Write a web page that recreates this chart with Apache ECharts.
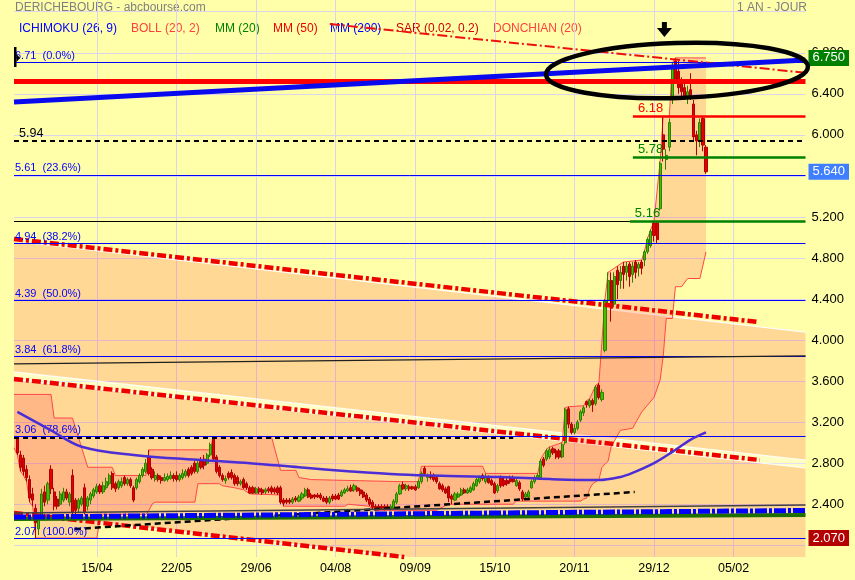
<!DOCTYPE html>
<html>
<head>
<meta charset="utf-8">
<script src="https://cdn.jsdelivr.net/npm/echarts@6.0.0/dist/echarts.min.js"></script>
<style>
html,body{margin:0;padding:0;background:#FFFFAA;}
#chart{width:855px;height:580px;}
</style>
</head>
<body>
<div id="chart"></div>
<script>
// ---------------- DATA ----------------
const xTickIndex  = [26, 52, 78, 104, 130, 156, 182, 208, 234];
const xTickLabels = ['15/04','22/05','29/06','04/08','09/09','15/10','20/11','29/12','05/02'];
const yGridValues  = [2.0,2.4,2.8,3.2,3.6,4.0,4.4,4.8,5.2,5.6,6.0,6.4,6.8,7.2];
const yLabelValues = [2.4,2.8,3.2,3.6,4.0,4.4,4.8,5.2,5.6,6.0,6.4,6.8];

const opens = [
3.05,2.88,2.85,2.74,2.64,2.50,2.36,2.16,2.28,2.52,
2.44,2.74,2.52,2.45,2.40,2.44,2.52,2.42,2.68,2.44,
2.36,2.40,2.56,2.38,2.44,2.48,2.52,2.58,2.52,2.56,
2.60,2.70,2.60,2.56,2.58,2.66,2.60,2.64,2.56,2.56,
2.62,2.68,2.72,2.86,2.74,2.64,2.68,2.66,2.63,2.64,
2.65,2.68,2.68,2.64,2.66,2.68,2.74,2.76,2.80,2.72,
2.82,2.84,2.80,2.88,3.04,2.86,2.76,2.68,2.63,2.70,
2.71,2.68,2.66,2.60,2.64,2.60,2.56,2.56,2.51,2.55,
2.54,2.52,2.55,2.56,2.55,2.56,2.56,2.44,2.44,2.44,
2.42,2.46,2.43,2.46,2.48,2.54,2.49,2.49,2.49,2.49,
2.46,2.46,2.42,2.48,2.48,2.49,2.48,2.51,2.53,2.56,
2.54,2.56,2.54,2.52,2.49,2.45,2.42,2.38,2.38,2.38,
2.38,2.38,2.36,2.36,2.42,2.50,2.59,2.55,2.57,2.57,
2.57,2.56,2.62,2.75,2.66,2.68,2.68,2.66,2.60,2.58,
2.55,2.57,2.48,2.44,2.47,2.49,2.54,2.51,2.52,2.54,
2.58,2.62,2.68,2.62,2.66,2.63,2.60,2.53,2.66,2.63,
2.63,2.66,2.66,2.58,2.61,2.52,2.47,2.47,2.56,2.62,
2.66,2.66,2.84,2.84,2.86,2.94,2.92,2.92,2.86,3.00,
3.33,3.18,3.10,3.14,3.22,3.29,3.40,3.36,3.41,3.38,
3.56,3.42,3.90,4.39,4.58,4.35,4.68,4.58,4.72,4.66,
4.74,4.64,4.76,4.70,4.76,4.78,4.86,4.92,5.14,5.14,
5.28,6.00,5.76,5.88,6.34,6.72,6.62,6.50,6.46,6.36,
6.44,6.30,6.00,5.95,6.16,5.88];
const closes = [
2.90,2.76,2.72,2.66,2.46,2.44,2.22,2.27,2.50,2.42,
2.60,2.55,2.38,2.38,2.50,2.52,2.46,2.50,2.32,2.34,
2.44,2.46,2.32,2.46,2.50,2.54,2.57,2.52,2.58,2.62,
2.68,2.56,2.55,2.62,2.62,2.60,2.64,2.58,2.44,2.64,
2.68,2.74,2.80,2.70,2.66,2.68,2.64,2.63,2.66,2.67,
2.68,2.65,2.64,2.68,2.70,2.72,2.68,2.70,2.72,2.80,
2.76,2.78,2.88,2.98,2.84,2.72,2.68,2.64,2.65,2.66,
2.66,2.60,2.60,2.62,2.56,2.56,2.51,2.51,2.55,2.52,
2.51,2.54,2.53,2.52,2.52,2.51,2.42,2.41,2.42,2.42,
2.45,2.44,2.47,2.50,2.54,2.47,2.46,2.47,2.47,2.46,
2.43,2.42,2.46,2.45,2.45,2.45,2.52,2.54,2.55,2.53,
2.58,2.53,2.50,2.47,2.44,2.40,2.37,2.36,2.36,2.36,
2.36,2.36,2.38,2.43,2.50,2.58,2.55,2.58,2.55,2.55,
2.54,2.62,2.70,2.70,2.68,2.66,2.64,2.62,2.55,2.54,
2.51,2.46,2.45,2.50,2.50,2.54,2.51,2.54,2.56,2.60,
2.64,2.66,2.65,2.67,2.61,2.59,2.51,2.58,2.58,2.59,
2.60,2.62,2.62,2.63,2.55,2.45,2.50,2.52,2.62,2.66,
2.68,2.82,2.78,2.92,2.93,2.90,2.86,2.86,2.98,3.32,
3.18,3.10,3.14,3.20,3.30,3.34,3.37,3.41,3.37,3.54,
3.44,3.49,4.38,4.58,4.31,4.62,4.54,4.66,4.64,4.72,
4.62,4.72,4.66,4.74,4.70,4.86,4.98,5.06,5.02,4.98,
5.72,5.86,5.80,6.12,6.66,6.54,6.46,6.42,6.38,6.42,
6.38,5.98,5.94,6.12,5.90,5.64];
const lows = [
2.88,2.72,2.68,2.62,2.42,2.38,2.07,2.10,2.26,2.38,
2.40,2.50,2.34,2.35,2.38,2.42,2.44,2.38,2.30,2.30,
2.32,2.38,2.30,2.34,2.40,2.46,2.50,2.50,2.50,2.54,
2.58,2.54,2.52,2.54,2.56,2.58,2.58,2.56,2.42,2.54,
2.60,2.66,2.70,2.68,2.64,2.62,2.62,2.60,2.62,2.62,
2.64,2.62,2.62,2.62,2.64,2.66,2.66,2.68,2.70,2.70,
2.74,2.74,2.78,2.86,2.82,2.70,2.66,2.62,2.60,2.64,
2.64,2.58,2.58,2.58,2.55,2.54,2.50,2.50,2.50,2.50,
2.49,2.50,2.51,2.50,2.50,2.49,2.40,2.38,2.40,2.40,
2.40,2.42,2.42,2.44,2.47,2.46,2.45,2.45,2.46,2.44,
2.42,2.40,2.40,2.43,2.44,2.44,2.47,2.50,2.52,2.52,
2.52,2.52,2.48,2.46,2.42,2.38,2.35,2.34,2.34,2.35,
2.34,2.35,2.34,2.35,2.40,2.49,2.54,2.53,2.53,2.54,
2.53,2.55,2.60,2.68,2.62,2.64,2.62,2.60,2.54,2.52,
2.50,2.42,2.40,2.43,2.46,2.48,2.50,2.50,2.51,2.53,
2.57,2.60,2.63,2.60,2.60,2.58,2.50,2.51,2.56,2.57,
2.58,2.60,2.61,2.57,2.53,2.43,2.45,2.46,2.55,2.60,
2.65,2.64,2.76,2.82,2.84,2.88,2.84,2.84,2.85,2.98,
3.14,3.08,3.08,3.12,3.20,3.26,3.34,3.34,3.30,3.36,
3.42,3.40,3.88,4.36,4.18,4.32,4.40,4.50,4.50,4.58,
4.52,4.56,4.60,4.62,4.64,4.72,4.84,4.90,4.96,4.94,
5.26,5.74,5.66,5.84,6.30,6.50,6.40,6.36,6.34,6.30,
6.34,5.94,5.80,5.88,5.84,5.62];
const highs = [
3.06,2.92,2.88,2.78,2.68,2.56,2.40,2.30,2.55,2.58,
2.62,2.78,2.56,2.48,2.53,2.56,2.55,2.52,2.74,2.46,
2.46,2.48,2.60,2.48,2.52,2.56,2.60,2.60,2.62,2.66,
2.70,2.72,2.62,2.64,2.66,2.68,2.66,2.66,2.58,2.66,
2.70,2.76,2.84,2.93,2.76,2.72,2.70,2.68,2.70,2.70,
2.72,2.70,2.72,2.70,2.74,2.74,2.76,2.78,2.82,2.82,
2.86,2.88,2.90,3.00,3.06,2.88,2.78,2.70,2.68,2.72,
2.74,2.70,2.68,2.64,2.66,2.62,2.58,2.58,2.57,2.57,
2.56,2.56,2.57,2.58,2.57,2.58,2.58,2.46,2.46,2.46,
2.47,2.48,2.49,2.52,2.56,2.56,2.51,2.50,2.51,2.51,
2.48,2.48,2.48,2.50,2.50,2.51,2.54,2.56,2.58,2.59,
2.60,2.58,2.56,2.54,2.51,2.47,2.44,2.40,2.40,2.40,
2.40,2.40,2.40,2.45,2.52,2.60,2.62,2.60,2.59,2.58,
2.59,2.64,2.72,2.77,2.70,2.72,2.70,2.68,2.62,2.60,
2.57,2.58,2.50,2.52,2.52,2.56,2.56,2.56,2.58,2.62,
2.66,2.68,2.70,2.70,2.68,2.65,2.62,2.60,2.68,2.66,
2.66,2.68,2.68,2.66,2.63,2.54,2.52,2.54,2.64,2.68,
2.70,2.84,2.86,2.94,2.96,2.96,2.94,2.94,3.00,3.34,
3.35,3.20,3.18,3.22,3.32,3.36,3.41,3.43,3.43,3.56,
3.58,3.52,4.40,4.66,4.66,4.66,4.72,4.72,4.76,4.76,
4.76,4.76,4.78,4.76,4.78,4.88,5.00,5.08,5.16,5.16,
5.74,6.18,5.86,6.16,6.70,6.75,6.72,6.56,6.52,6.48,
6.60,6.34,6.04,6.16,6.18,5.90];

// Donchian (20) channel vertices [day index, value]
const donchianUpper = [[-1.1,3.47],[11,3.47],[12,3.24],[18,3.24],[23,2.76],[31,2.76],[32,2.68],[42,2.68],[43,2.93],[63,2.93],[64,3.06],[83,3.06],[86,2.73],[91,2.73],[92,2.66],[96,2.64],[125,2.62],[131,2.62],[132,2.77],[152,2.77],[153,2.70],[170,2.70],[171,2.84],[173,2.94],[174,2.96],[178,3.00],[179,3.34],[180,3.35],[185,3.36],[186,3.41],[187,3.43],[189,3.56],[190,3.58],[192,4.40],[193,4.66],[196,4.72],[198,4.76],[204,4.78],[205,4.88],[206,5.00],[207,5.08],[208,5.16],[210,5.74],[211,6.18],[213,6.18],[214,6.70],[215,6.75],[225,6.75]];
const donchianLower = [[-1.1,2.95],[0,2.88],[1,2.72],[2,2.68],[3,2.62],[4,2.42],[5,2.38],[6,2.07],[26,2.07],[27,2.26],[28,2.30],[42,2.30],[43,2.34],[44,2.40],[45,2.42],[58,2.42],[59,2.60],[66,2.60],[67,2.58],[71,2.56],[74,2.54],[76,2.50],[86,2.49],[87,2.38],[107,2.38],[108,2.40],[115,2.38],[116,2.35],[117,2.34],[137,2.34],[138,2.36],[141,2.40],[162,2.40],[163,2.43],[184,2.43],[185,2.45],[186,2.46],[187,2.55],[188,2.60],[190,2.64],[191,2.76],[193,2.82],[194,2.96],[197,3.12],[201,3.14],[204,3.30],[208,3.44],[210,3.61],[211,3.84],[212,4.21],[214,4.21],[215,4.52],[217,4.52],[219,4.60],[223,4.60],[225,4.86]];

// long moving average (purple)
const mmLong = [[0,3.30],[11,3.12],[21,2.96],[38,2.88],[60,2.83],[76,2.80],[92,2.76],[109,2.72],[125,2.69],[141,2.675],[158,2.665],[174,2.645],[190,2.635],[197,2.665],[201,2.705],[208,2.80],[214,2.91],[220,3.03],[225,3.10]];

// Fibonacci retracement levels
const fibLevels = [6.71, 5.61, 4.94, 4.39, 3.84, 3.06, 2.07];
const fibPct    = ['0.0%','23.6%','38.2%','50.0%','61.8%','78.6%','100.0%'];

// drawn support / resistance levels
const dashedLevel = 5.94;
const redLevel = 6.18;
const greenLevels = [5.78, 5.16];
const thickRedLevel = 6.518;

// trend channel edges (fill) and trend lines [index, value]
const channelTopEdge    = [[-1.1,4.965],[257.5,4.078]];
const stripTopEdge      = [[-1.1,3.689],[257.5,2.831]];
const stripBottomEdge   = [[-1.1,3.611],[257.5,2.753]];
const channelBottomEdge = [[-1.1,2.314],[257.5,1.444]];
const trendA = [[-1.1,4.985],[242.0,4.176]];
const trendB = [[-1.1,3.621],[242.6,2.831]];
const trendC = [[-1.1,2.314],[126.4,1.8855]];
const trendD = [[102.1,7.080],[257.5,6.605]];
const blueTrend = [[-1.1,6.320],[257.5,6.729]];
const risingSupport = [[18.8,2.158],[201.7,2.519]];
const dashed306 = [[-1.1,3.05],[162,3.05]];
const black516 = [[-1.1,5.155],[200.1,5.155]];
const black38  = [[-1.1,3.767],[257.5,3.845]];
const bottomBlack = [[-1.1,2.314],[257.5,2.392]];
const bottomBlue  = [[-1.1,2.275],[257.5,2.339]];
const bottomGreen = [[-1.1,2.256],[257.5,2.295]];
const levelStart = [201.1, 201.1, 200.1]; // start index of 6.18 / 5.78 / 5.16 lines

// annotation ellipse (centre and radii in data units) and arrow
const ellipseCenter = [215.5, 6.627];
const ellipseRadius = [42.8, 0.268];
const arrowPoint = [211.4, 7.027];

// price tags
const tagValues = [6.75, 5.64, 2.07];
const tagColors = ['#008000', '#3F7FFF', '#B40000'];

// ---------------- CHART ----------------
const candleData = opens.map((o, i) => [i, o, closes[i], lows[i], highs[i]]);
const FONT = 'Liberation Sans';

function seg(a, b, lineStyle, label) {
  return [{coord: a, lineStyle: lineStyle, label: label || {show: false}}, {coord: b}];
}

const peach = 'rgba(255,60,70,0.2)';
const whiteEdge = {stroke: 'rgba(255,255,255,0.9)', lineWidth: 1.2, fill: null};

const chart = echarts.init(document.getElementById('chart'));
const option = {
  animation: false,
  backgroundColor: '#FFFFAA',
  textStyle: {fontFamily: FONT},
  grid: {left: 14, right: 49.5, top: 0, bottom: 23, containLabel: false},
  xAxis: {
    type: 'value', min: -1.1, max: 257.5,
    axisLine: {show: false}, axisTick: {show: false, customValues: xTickIndex},
    axisLabel: {customValues: xTickIndex, formatter: v => xTickLabels[xTickIndex.indexOf(v)] || '',
      color: '#000', fontSize: 12.5, fontFamily: FONT, margin: 5},
    splitLine: {show: true, lineStyle: {color: '#DCD4EA', width: 1}}
  },
  yAxis: {
    type: 'value', position: 'right', min: 1.8855, max: 7.3143,
    axisLine: {show: false}, axisTick: {show: false, customValues: yGridValues},
    axisLabel: {customValues: yLabelValues, formatter: v => v.toFixed(3), color: '#000',
      fontSize: 13, fontFamily: FONT, margin: 6, padding: [0, 0, 5, 0]},
    splitLine: {show: true, lineStyle: {color: '#DCD4EA', width: 1}}
  },
  graphic: [
    {type: 'text', x: 15, y: 8, style: {text: 'DERICHEBOURG - abcbourse.com', fill: '#808080', font: '12px "Liberation Sans"', verticalAlign: 'middle'}},
    {type: 'text', x: 737, y: 8, style: {text: '1 AN - JOUR', fill: '#808080', font: '12px "Liberation Sans"', verticalAlign: 'middle'}},
    {type: 'text', x: 19, y: 29, style: {text: 'ICHIMOKU (26, 9)', fill: '#0000FF', font: '12px "Liberation Sans"', verticalAlign: 'middle'}},
    {type: 'text', x: 131, y: 29, style: {text: 'BOLL (20, 2)', fill: '#FF4040', font: '12px "Liberation Sans"', verticalAlign: 'middle'}},
    {type: 'text', x: 215, y: 29, style: {text: 'MM (20)', fill: '#008000', font: '12px "Liberation Sans"', verticalAlign: 'middle'}},
    {type: 'text', x: 273, y: 29, style: {text: 'MM (50)', fill: '#EE0000', font: '12px "Liberation Sans"', verticalAlign: 'middle'}},
    {type: 'text', x: 330, y: 29, style: {text: 'MM (200)', fill: '#0000FF', font: '12px "Liberation Sans"', verticalAlign: 'middle'}},
    {type: 'text', x: 396, y: 29, style: {text: 'SAR (0.02, 0.2)', fill: '#D00000', font: '12px "Liberation Sans"', verticalAlign: 'middle'}},
    {type: 'text', x: 493, y: 29, style: {text: 'DONCHIAN (20)', fill: '#FF4040', font: '12px "Liberation Sans"', verticalAlign: 'middle'}},
    {type: 'rect', shape: {x: 14, y: 47, width: 2.5, height: 20}, style: {fill: '#000'}, z: 100},
    {type: 'polygon', shape: {points: [[16.5, 54], [20, 58], [16.5, 62]]}, style: {fill: '#000'}, z: 100}
  ],
  series: [
    { // trend-channel background
      type: 'custom', z: 1, silent: true, clip: true, data: [[0, 0]],
      renderItem: (params, api) => {
        const c = pts => pts.map(p => api.coord(p));
        const poly = (a, b) => c(a.concat(b.slice().reverse()));
        return {type: 'group', children: [
          {type: 'polygon', shape: {points: poly(channelTopEdge, stripTopEdge)}, style: {fill: peach}},
          {type: 'polygon', shape: {points: poly(stripBottomEdge, channelBottomEdge)}, style: {fill: peach}},
          {type: 'polygon', shape: {points: poly(stripTopEdge, stripBottomEdge)}, style: {fill: 'rgba(255,255,255,0.3)'}},
          {type: 'polyline', shape: {points: c(channelTopEdge)}, style: whiteEdge},
          {type: 'polyline', shape: {points: c(stripTopEdge)}, style: whiteEdge},
          {type: 'polyline', shape: {points: c(stripBottomEdge)}, style: whiteEdge},
          {type: 'polyline', shape: {points: c(channelBottomEdge)}, style: whiteEdge}
        ]};
      }
    },
    { // Donchian fill
      type: 'custom', z: 2, silent: true, clip: true, data: [[0, 0]],
      renderItem: (params, api) => ({
        type: 'polygon',
        shape: {points: donchianUpper.concat(donchianLower.slice().reverse()).map(p => api.coord(p))},
        style: {fill: peach}
      })
    },
    {type: 'line', z: 3, data: donchianUpper, symbol: 'none', silent: true, lineStyle: {color: '#FF4848', width: 1}},
    {type: 'line', z: 3, data: donchianLower, symbol: 'none', silent: true, lineStyle: {color: '#FF4848', width: 1}},
    { // trend lines under candles
      type: 'line', z: 3, data: [], silent: true,
      markLine: {symbol: ['none', 'none'], silent: true, emphasis: {disabled: true}, data: [
        seg(trendA[0], trendA[1], {color: '#EE0000', width: 4.5, type: [9, 3, 3, 3]}),
        seg(trendB[0], trendB[1], {color: '#EE0000', width: 4.5, type: [9, 3, 3, 3]}),
        seg(trendC[0], trendC[1], {color: '#EE0000', width: 4.5, type: [9, 3, 3, 3]}),
        seg(risingSupport[0], risingSupport[1], {color: '#000', width: 2.5, type: [6, 4]}),
        seg(bottomBlack[0], bottomBlack[1], {color: '#404040', width: 1.5, type: 'solid'}),
        seg(bottomGreen[0], bottomGreen[1], {color: '#1E6E00', width: 4, type: 'solid'}),
        seg(bottomBlue[0], bottomBlue[1], {color: '#0000FF', width: 5, type: [12, 2, 3, 2]})
      ]}
    },
    {
      type: 'candlestick', z: 4, data: candleData, encode: {x: 0, y: [1, 2, 3, 4]},
      barWidth: 2.6, silent: true,
      itemStyle: {color: '#44C000', color0: '#E40000', borderColor: '#2E8000', borderColor0: '#B00000', borderWidth: 1},
      markPoint: {
        silent: true, symbol: 'path://M5,0 L10,0 L10,6 L15,6 L7.5,15 L0,6 L5,6 Z', symbolSize: [15, 15],
        itemStyle: {color: '#000'}, label: {show: false}, data: [{coord: arrowPoint}]
      }
    },
    {type: 'line', z: 5, data: mmLong, smooth: 0.35, symbol: 'none', silent: true, lineStyle: {color: '#4B2ED6', width: 2.5}},
    { // levels
      type: 'line', z: 6, data: [], silent: true,
      markLine: {symbol: ['none', 'none'], silent: true, emphasis: {disabled: true}, data: [].concat(
        fibLevels.map((v, i) => ({yAxis: v, lineStyle: {color: '#0000FF', width: 1, type: 'solid'},
          label: {show: true, position: 'insideStartTop', distance: [1, 1], formatter: v.toFixed(2) + '  (' + fibPct[i] + ')',
            color: '#0000FF', fontSize: 11, fontFamily: FONT}})),
        [{yAxis: dashedLevel, lineStyle: {color: '#000', width: 2, type: [5, 4]},
          label: {show: true, position: 'insideStartTop', distance: [5, 1], formatter: dashedLevel.toFixed(2), color: '#000', fontSize: 12.5, fontFamily: FONT}}],
        [seg(dashed306[0], dashed306[1], {color: '#000', width: 2, type: [5, 4]})],
        [seg(black516[0], black516[1], {color: '#000', width: 1, type: 'solid'})],
        [seg(black38[0], black38[1], {color: '#202020', width: 1.2, type: 'solid'})],
        [seg([levelStart[0], redLevel], [257.5, redLevel], {color: '#FF0000', width: 2.5, type: 'solid'},
          {show: true, position: 'insideStartTop', distance: [5, 1], formatter: redLevel.toFixed(2), color: '#FF0000', fontSize: 13, fontFamily: FONT})],
        greenLevels.map((v, i) => seg([levelStart[i + 1], v], [257.5, v], {color: '#008000', width: 2.5, type: 'solid'},
          {show: true, position: 'insideStartTop', distance: [5, 1], formatter: v.toFixed(2), color: '#008000', fontSize: 13, fontFamily: FONT})),
        [seg(trendD[0], trendD[1], {color: '#EE1010', width: 2, type: [10, 3, 2, 3]})],
        [{yAxis: thickRedLevel, lineStyle: {color: '#FF0000', width: 5, type: 'solid'}, label: {show: false}}],
        [seg(blueTrend[0], blueTrend[1], {color: '#0A0AEE', width: 5, type: 'solid'})]
      )}
    },
    { // annotation ellipse
      type: 'custom', z: 8, silent: true, clip: false, data: [[0, 0]],
      renderItem: (params, api) => {
        const c = api.coord(ellipseCenter);
        const s = api.size(ellipseRadius);
        return {type: 'ellipse', shape: {cx: c[0], cy: c[1], rx: s[0], ry: s[1]},
          rotation: 0.03, originX: c[0], originY: c[1],
          style: {fill: null, stroke: '#000', lineWidth: 4.5}};
      }
    },
    { // price tags
      type: 'line', z: 9, data: [], silent: true, clip: false,
      markLine: {symbol: ['none', 'none'], silent: true, emphasis: {disabled: true},
        data: tagValues.map((v, i) => ({yAxis: v, lineStyle: {color: 'rgba(0,0,0,0)', width: 1, type: 'solid'},
          label: {show: true, position: 'end', distance: 3, formatter: v.toFixed(3), color: '#FFFFFF',
            backgroundColor: tagColors[i], padding: [2, 4, 1, 4], fontSize: 13, fontFamily: FONT}}))}
    }
  ]
};
chart.setOption(option);
</script>
</body>
</html>
